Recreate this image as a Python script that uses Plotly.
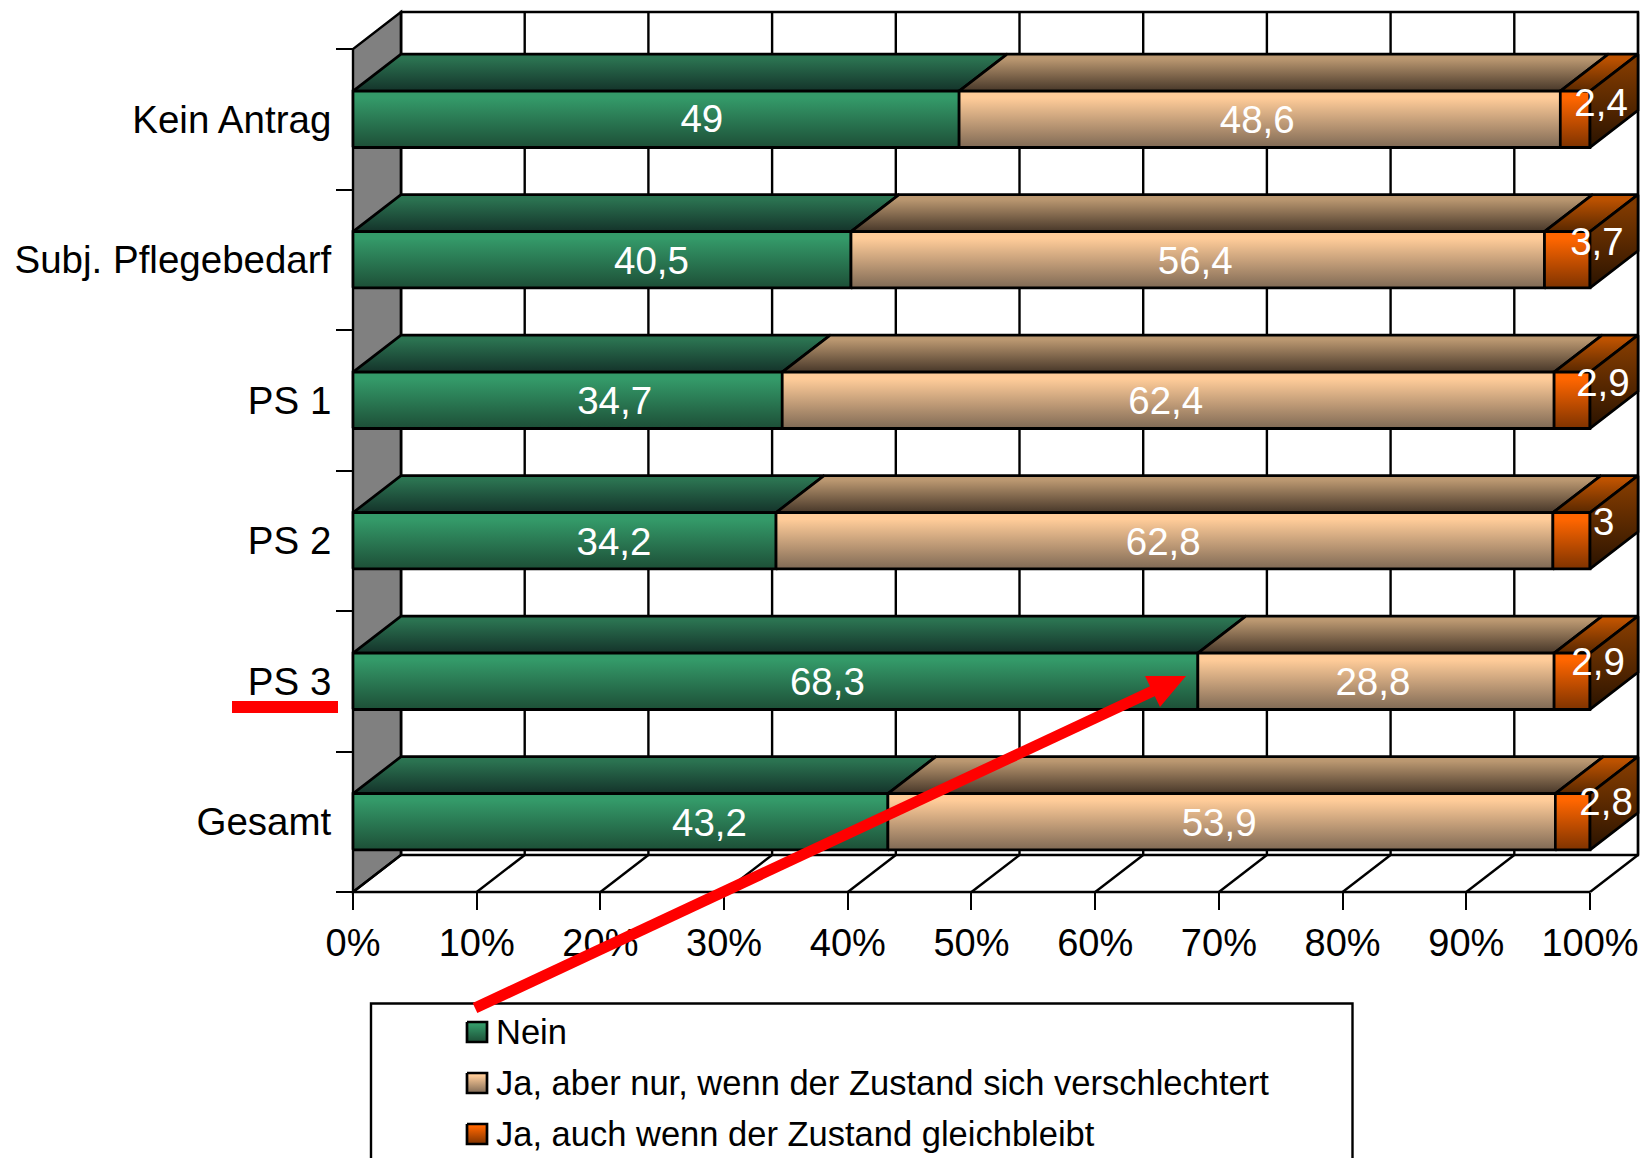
import plotly.graph_objects as go

# Survey shares per care group, top row first
categories = ["Kein Antrag", "Subj. Pflegebedarf", "PS 1", "PS 2", "PS 3", "Gesamt"]
nein = [49, 40.5, 34.7, 34.2, 68.3, 43.2]
ja_schlechter = [48.6, 56.4, 62.4, 62.8, 28.8, 53.9]
ja_gleich = [2.4, 3.7, 2.9, 3, 2.9, 2.8]
series_names = [
    "Nein",
    "Ja, aber nur, wenn der Zustand sich verschlechtert",
    "Ja, auch wenn der Zustand gleichbleibt",
]
x_ticks = list(range(0, 101, 10))

# Page and axis geometry
W, H = 1644, 1158
X0_PX, Y0_PX = 353.0, 892.0
PX_PER_PCT, PX_PER_CAT = 12.37, 140.5
DX, DY = 48 / PX_PER_PCT, 37 / PX_PER_CAT
BAR_W = 0.4
X_RANGE = (-0.5, 104.1)
Y_RANGE = (-0.05, 6.32)
FONT = "Liberation Sans"
GRID_W = 2.4
FACE_W = 2.7

# (front top, front bottom, top-face back, top-face front, side top, side bottom)
shades = [
    ("#349a69", "#1d4f37", "#2b7351", "#14332a", None, None),
    ("#ffcc99", "#806a55", "#bb9871", "#473729", None, None),
    ("#ff6600", "#7f3300", "#bd5200", "#592800", "#803a00", "#2a1300"),
]
bar_mid = ["#2a7850", "#c09b78", "#bf4c00"]

# Hand-placed label offsets: percent points along x, category units along y
label_dx = [
    [3.7, 4.0, 3.8, 4.0, 4.2, 7.2],
    [-0.2, -0.2, -0.2, -0.1, -0.25, -0.2],
    [2.1, 2.4, 2.5, 2.6, 2.1, 2.7],
]
label_dy = [
    [-0.02, -0.03, -0.03, -0.03, -0.03, -0.03],
    [-0.03, -0.03, -0.03, -0.03, -0.03, -0.03],
    [0.09, 0.105, 0.10, 0.11, 0.11, 0.12],
]

values = [nein, ja_schlechter, ja_gleich]
n = len(categories)
y_pos = [n - 1 - i + 0.5 for i in range(n)]

fig = go.Figure()


def face(xs, ys, top_y, bottom_y, top_colour, bottom_colour, xaxis="x", yaxis="y"):
    """Closed polygon with a vertical ramp that holds its light tone at the top."""
    fig.add_trace(go.Scatter(
        x=xs, y=ys, mode="lines", fill="toself",
        line=dict(color="black", width=FACE_W),
        fillgradient=dict(type="vertical", start=top_y, stop=bottom_y,
                          colorscale=[[0, top_colour], [0.12, top_colour], [1, bottom_colour]]),
        hoverinfo="skip", showlegend=False, xaxis=xaxis, yaxis=yaxis,
    ))


# Stacked 100 % bars
for s, name in enumerate(series_names):
    fig.add_trace(go.Bar(
        y=y_pos, x=values[s], name=name, orientation="h", width=BAR_W,
        marker=dict(color=bar_mid[s], line=dict(color="black", width=FACE_W)),
        showlegend=False, hoverinfo="skip",
    ))

# Shaded box faces and value labels derived from the same shares
lx, ly, lt = [], [], []
for i in range(n):
    total = sum(v[i] for v in values)
    y_c = y_pos[i]
    yb, yt = y_c - BAR_W / 2, y_c + BAR_W / 2
    start = 0.0
    for s in range(3):
        end = start + values[s][i] / total * 100
        c = shades[s]
        face([start, end, end + DX, start + DX, start],
             [yt, yt, yt + DY, yt + DY, yt], yt + DY, yt, c[2], c[3])
        face([start, end, end, start, start],
             [yb, yb, yt, yt, yb], yt, yb, c[0], c[1])
        if s == 2:
            face([end, end + DX, end + DX, end, end],
                 [yb, yb + DY, yt + DY, yt, yb], yt + DY, yb, c[4], c[5])
        lx.append((start + end) / 2 + label_dx[s][i])
        ly.append(y_c + label_dy[s][i])
        lt.append(f"{values[s][i]:g}".replace(".", ","))
        start = end

fig.add_trace(go.Scatter(
    x=lx, y=ly, text=lt, mode="text", textposition="middle center",
    textfont=dict(family=FONT, size=38.5, color="white"),
    hoverinfo="skip", showlegend=False, cliponaxis=False,
))

# Legend swatches on a full-page helper axis
swatch_rows = [1032, 1083, 1134]
for s, yc in enumerate(swatch_rows):
    x0, x1, y0, y1 = 467, 487, yc - 10, yc + 10
    face([x0, x1, x1, x0, x0], [y0, y0, y1, y1, y0], y0, y1,
         shades[s][0], shades[s][1], "x2", "y2")

# Chart walls, floor and grid sit behind the bars
blk = dict(color="black", width=GRID_W)
shapes = [
    dict(type="rect", x0=DX, x1=100 + DX, y0=DY, y1=n + DY, xref="x", yref="y",
         fillcolor="white", line=blk, layer="below"),
    dict(type="path", xref="x", yref="y", layer="below", fillcolor="#808080", line=blk,
         path=f"M 0,0 L {DX},{DY} L {DX},{n + DY} L 0,{n} Z"),
]
for t in x_ticks:
    shapes.append(dict(type="line", xref="x", yref="y", layer="below", line=blk,
                       x0=t + DX, x1=t + DX, y0=DY, y1=n + DY))
    shapes.append(dict(type="line", xref="x", yref="y", layer="below", line=blk,
                       x0=t, x1=t + DX, y0=0, y1=DY))
shapes.append(dict(type="line", xref="x", yref="y", layer="below", line=blk,
                   x0=0, x1=100, y0=0, y1=0))


def pg(x, y):
    return x / W, 1 - y / H


# Legend frame runs past the bottom of the page
lx0, ly0 = pg(371, 1003.5)
lx1, ly1 = pg(1352.5, 1200)
shapes.append(dict(type="rect", xref="paper", yref="paper", x0=lx0, x1=lx1, y0=ly1, y1=ly0,
                   fillcolor="white", line=dict(color="black", width=GRID_W), layer="below"))

# Red emphasis: underline below "PS 3" and the arrow to its green bar end
u0, v0 = pg(232, 701)
u1, v1 = pg(338, 713)
shapes.append(dict(type="rect", xref="paper", yref="paper", x0=u0, x1=u1, y0=v1, y1=v0,
                   fillcolor="#ff0000", line=dict(width=0), layer="above"))
a0, b0 = pg(475, 1008)
a1, b1 = pg(1155, 690)
shapes.append(dict(type="line", xref="paper", yref="paper", x0=a0, y0=b0, x1=a1, y1=b1,
                   line=dict(color="#ff0000", width=11), layer="above"))
tri = [pg(1186, 676), pg(1145, 676), pg(1160, 707)]
shapes.append(dict(type="path", xref="paper", yref="paper", layer="above",
                   fillcolor="#ff0000", line=dict(width=0),
                   path="M " + " L ".join(f"{a},{b}" for a, b in tri) + " Z"))

annotations = [
    dict(text=name, xref="paper", yref="paper", x=494 / W, y=1 - yc / H,
         xanchor="left", yanchor="middle", showarrow=False,
         font=dict(family=FONT, size=34.5, color="black"))
    for name, yc in zip(series_names, swatch_rows)
]

fig.update_layout(
    width=W, height=H,
    margin=dict(l=0, r=0, t=0, b=0, autoexpand=False),
    paper_bgcolor="white", plot_bgcolor="rgba(0,0,0,0)",
    barmode="stack", barnorm="percent",
    showlegend=False, shapes=shapes, annotations=annotations,
    xaxis=dict(
        domain=[(X0_PX + X_RANGE[0] * PX_PER_PCT) / W, (X0_PX + X_RANGE[1] * PX_PER_PCT) / W],
        range=list(X_RANGE), anchor="free", position=1 - Y0_PX / H,
        tickvals=x_ticks, ticktext=[f"{t}%" for t in x_ticks],
        ticks="outside", ticklen=17, tickwidth=GRID_W, tickcolor="black",
        showgrid=False, zeroline=False, showline=False,
        tickfont=dict(family=FONT, size=38, color="black"),
    ),
    yaxis=dict(
        domain=[1 - (Y0_PX - Y_RANGE[0] * PX_PER_CAT) / H, 1 - (Y0_PX - Y_RANGE[1] * PX_PER_CAT) / H],
        range=list(Y_RANGE), anchor="free", position=X0_PX / W,
        tickvals=y_pos, ticktext=categories,
        ticks="outside", ticklen=14, tickwidth=GRID_W, tickcolor="rgba(0,0,0,0)",
        minor=dict(tickvals=list(range(n + 1)), ticks="outside", ticklen=17,
                   tickwidth=GRID_W, tickcolor="black", showgrid=False),
        showgrid=False, zeroline=False, showline=False,
        tickfont=dict(family=FONT, size=38.5, color="black"),
    ),
    xaxis2=dict(domain=[0, 1], range=[0, W], visible=False, anchor="y2"),
    yaxis2=dict(domain=[0, 1], range=[H, 0], visible=False, anchor="x2"),
)

fig.write_html("out.html", config={"displayModeBar": False})
